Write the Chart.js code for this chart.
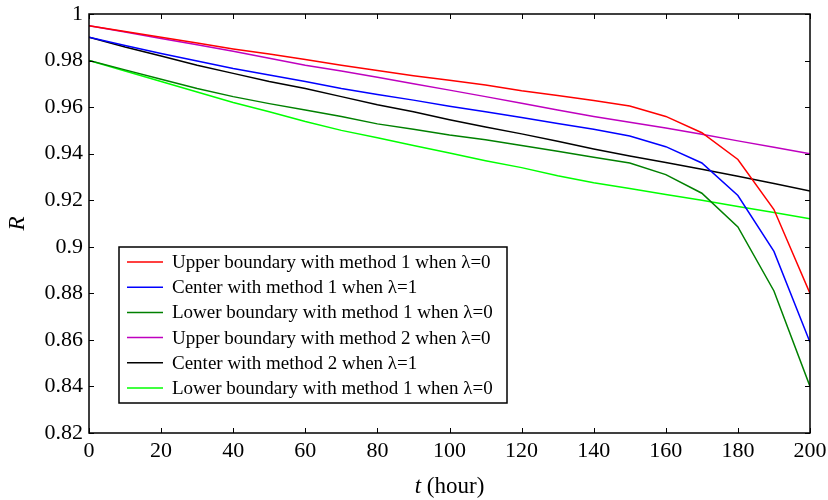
<!DOCTYPE html>
<html>
<head>
<meta charset="utf-8">
<script src="https://cdn.jsdelivr.net/npm/chart.js@4/dist/chart.umd.min.js"></script>
<style>
html,body{margin:0;padding:0;background:#fff;}
#wrap{width:828px;height:500px;position:relative;}
</style>
</head>
<body>
<div id="wrap"><canvas id="c" width="828" height="500"></canvas></div>
<script>
const hours = [0,10,20,30,40,50,60,70,80,90,100,110,120,130,140,150,160,170,180,190,200];
const upperM1 = [0.995,0.9925,0.990,0.9875,0.985,0.9828,0.9805,0.978,0.9757,0.9735,0.9715,0.9695,0.967,0.965,0.9628,0.9605,0.956,0.949,0.9375,0.916,0.880];
const centerM1 = [0.990,0.9865,0.983,0.9798,0.9766,0.9738,0.971,0.968,0.9654,0.963,0.9604,0.958,0.9555,0.953,0.9505,0.9476,0.943,0.936,0.922,0.898,0.859];
const lowerM1 = [0.980,0.976,0.972,0.968,0.9645,0.9615,0.9588,0.956,0.9528,0.9505,0.948,0.946,0.9435,0.941,0.9385,0.936,0.931,0.923,0.9085,0.881,0.840];
const upperM2 = [0.995,0.9923,0.9895,0.9868,0.984,0.981,0.978,0.9755,0.9728,0.970,0.9673,0.9645,0.9617,0.9588,0.956,0.9535,0.951,0.9483,0.9455,0.9428,0.940];
const centerM2 = [0.990,0.9858,0.982,0.978,0.9745,0.971,0.968,0.9645,0.961,0.958,0.9546,0.9515,0.9485,0.9453,0.942,0.939,0.9362,0.9333,0.9303,0.9272,0.924];
const lowerM2 = [0.980,0.9755,0.971,0.9665,0.962,0.958,0.9538,0.950,0.9468,0.9435,0.9403,0.937,0.934,0.9305,0.9275,0.925,0.9225,0.920,0.9173,0.9147,0.912];
const seriesLabels = [
  "Upper boundary with method 1 when λ=0",
  "Center with method 1 when λ=1",
  "Lower boundary with method 1 when λ=0",
  "Upper boundary with method 2 when λ=0",
  "Center with method 2 when λ=1",
  "Lower boundary with method 1 when λ=0"
];
const seriesColors = ["#ff0000","#0000ff","#008000","#bf00bf","#000000","#00ff00"];
const xTicks = [0,20,40,60,80,100,120,140,160,180,200];
const yTicks = [0.82,0.84,0.86,0.88,0.9,0.92,0.94,0.96,0.98,1];

const seriesData = [upperM1, centerM1, lowerM1, upperM2, centerM2, lowerM2];
const FONT = "'Liberation Serif', 'DejaVu Serif', serif";

const datasets = seriesData.map((vals, i) => ({
  label: seriesLabels[i],
  data: hours.map((h, j) => ({x: h, y: vals[j]})),
  borderColor: seriesColors[i],
  backgroundColor: seriesColors[i],
  borderWidth: 1.5,
  pointRadius: 0,
  tension: 0,
  fill: false
}));

const framePlugin = {
  id: 'frame',
  afterDatasetsDraw(chart) {
    const ctx = chart.ctx;
    const a = chart.chartArea;
    const xs = chart.scales.x, ys = chart.scales.y;
    ctx.save();
    ctx.strokeStyle = '#000';
    ctx.lineWidth = 1.5;
    ctx.strokeRect(a.left, a.top, a.right - a.left, a.bottom - a.top);
    ctx.lineWidth = 1;
    const tl = 5;
    ctx.beginPath();
    xTicks.forEach(v => {
      const px = Math.round(xs.getPixelForValue(v)) + 0.5;
      ctx.moveTo(px, a.bottom); ctx.lineTo(px, a.bottom - tl);
      ctx.moveTo(px, a.top); ctx.lineTo(px, a.top + tl);
    });
    yTicks.forEach(v => {
      const py = Math.round(ys.getPixelForValue(v)) + 0.5;
      ctx.moveTo(a.left, py); ctx.lineTo(a.left + tl, py);
      ctx.moveTo(a.right, py); ctx.lineTo(a.right - tl, py);
    });
    ctx.stroke();

    // legend box
    const bx = a.left + 30, by = a.top + 233, bw = 388, bh = 156;
    ctx.fillStyle = '#fff';
    ctx.fillRect(bx, by, bw, bh);
    ctx.lineWidth = 1.5;
    ctx.strokeStyle = '#000';
    ctx.strokeRect(bx, by, bw, bh);
    ctx.font = "19px " + FONT;
    ctx.textBaseline = 'middle';
    ctx.textAlign = 'left';
    chart.data.datasets.forEach((ds, i) => {
      const yy = by + 15 + i * 25.2;
      ctx.strokeStyle = ds.borderColor;
      ctx.lineWidth = 1.5;
      ctx.beginPath();
      ctx.moveTo(bx + 8, yy); ctx.lineTo(bx + 44, yy);
      ctx.stroke();
      ctx.fillStyle = '#000';
      ctx.fillText(ds.label, bx + 53, yy + 1);
    });

    // axis titles
    ctx.fillStyle = '#000';
    ctx.textBaseline = 'middle';
    const cx = (a.left + a.right) / 2;
    ctx.font = "italic 23px " + FONT;
    const tW = ctx.measureText('t').width;
    ctx.font = "23px " + FONT;
    const rest = ' (hour)';
    const rW = ctx.measureText(rest).width;
    const startX = cx - (tW + rW) / 2;
    ctx.font = "italic 23px " + FONT;
    ctx.textAlign = 'left';
    ctx.fillText('t', startX, 487);
    ctx.font = "23px " + FONT;
    ctx.fillText(rest, startX + tW, 487);

    ctx.save();
    ctx.translate(18, (a.top + a.bottom) / 2);
    ctx.rotate(-Math.PI / 2);
    ctx.font = "italic 23px " + FONT;
    ctx.textAlign = 'center';
    ctx.fillText('R', 0, 0);
    ctx.restore();
    ctx.restore();
  }
};

new Chart(document.getElementById('c'), {
  type: 'line',
  data: { datasets },
  options: {
    responsive: false,
    animation: false,
    devicePixelRatio: 1,
    layout: { padding: { top: 14, right: 18, left: 0, bottom: 0 } },
    plugins: { legend: { display: false }, tooltip: { enabled: false } },
    scales: {
      x: {
        type: 'linear',
        min: 0, max: 200,
        afterBuildTicks(s) { s.ticks = xTicks.map(v => ({value: v})); },
        afterFit(s) { s.height = 67; s.paddingLeft = 0; s.paddingRight = 0; },
        grid: { display: false, drawTicks: false },
        border: { display: false },
        ticks: { color: '#000', font: { family: FONT, size: 22 }, padding: 5, maxRotation: 0, callback: v => String(v) }
      },
      y: {
        type: 'linear',
        min: 0.82, max: 1,
        afterBuildTicks(s) { s.ticks = yTicks.map(v => ({value: v})); },
        afterFit(s) { s.width = 89; s.paddingTop = 0; s.paddingBottom = 0; },
        grid: { display: false, drawTicks: false },
        border: { display: false },
        ticks: { color: '#000', font: { family: FONT, size: 22 }, padding: 6, callback: v => String(+v.toFixed(2)) }
      }
    }
  },
  plugins: [framePlugin]
});
</script>
</body>
</html>
